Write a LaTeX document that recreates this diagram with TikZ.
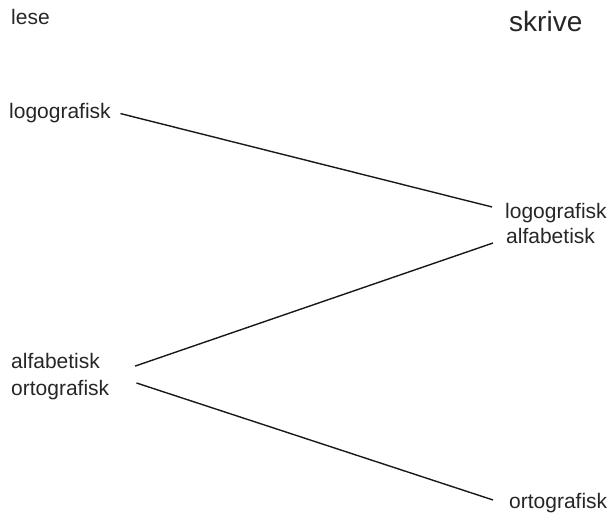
\documentclass[tikz,border=0pt]{standalone}
\usepackage{fontspec}
\setmainfont{Liberation Sans}
\usetikzlibrary{positioning}

\begin{document}
\begin{tikzpicture}[
    x=1pt, y=1pt,
    word/.style   ={inner sep=0pt, anchor=base west, text=black!85,
                    font=\fontsize{21}{25}\selectfont},
    head/.style   ={inner sep=0pt, anchor=base west, text=black!85,
                    font=\fontsize{28}{32}\selectfont},
    link/.style   ={line width=1.4pt, black!90}
]
\useasboundingbox (0,0) rectangle (609,512);

% --- headings ---
\node[word] (lese)   at (11,487) {lese};
\node[head] (skrive) at (509,480) {skrive};

% --- left column: lese ---
\node[word] (logoL) at (9,393)  {logografisk};
\node[word] (alfaL) at (11,144) {alfabetisk};
\node[word] (ortoL) at (11,117) {ortografisk};

% --- right column: skrive ---
\node[word] (logoR) at (505,294) {logografisk};
\node[word] (alfaR) at (506,269) {alfabetisk};
\node[word] (ortoR) at (509,4)   {ortografisk};

% --- connectors ---
\draw[link] ([xshift=9.5pt]logoL.east) -- ([xshift=-13pt,yshift=5.6pt]logoR.west);
\draw[link] ([xshift=35pt,yshift=-5.6pt]alfaL.east) -- ([xshift=-13pt]alfaR.base west);
\draw[link] ([xshift=27pt,yshift=6.6pt]ortoL.east) -- ([xshift=-16pt,yshift=2.6pt]ortoR.west);

\end{tikzpicture}
\end{document}
